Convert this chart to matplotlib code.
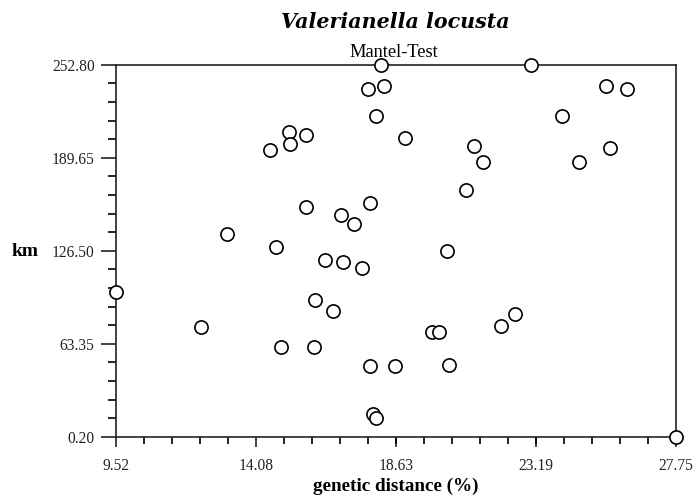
import matplotlib
matplotlib.use("Agg")
import matplotlib.pyplot as plt
import numpy as np
from matplotlib.ticker import FixedLocator, AutoMinorLocator

# Data
genetic_distance = [9.52, 12.29, 13.12, 14.72, 14.88, 14.52, 15.15, 15.18, 15.72, 15.72,
                    16.00, 15.97, 16.32, 16.58, 16.84, 16.90, 17.27, 17.53, 17.72, 17.79,
                    17.79, 17.87, 18.00, 17.98, 18.15, 18.24, 18.60, 18.93, 19.80, 20.02,
                    20.28, 20.37, 20.91, 21.16, 21.48, 22.04, 22.51, 23.03, 24.05, 24.58,
                    25.47, 25.61, 26.14, 27.75]
km = [98.5, 74.7, 137.6, 128.8, 61.3, 195.1, 207.4, 199.0, 204.9, 156.2,
      93.0, 61.3, 120.0, 85.6, 150.7, 119.0, 144.8, 114.8, 236.3, 159.1,
      48.4, 15.6, 12.9, 218.0, 252.8, 238.5, 48.5, 202.7, 71.3, 71.3,
      126.5, 48.7, 167.9, 197.3, 186.5, 75.4, 83.3, 252.8, 218.0, 186.5,
      238.5, 196.4, 236.3, 0.2]

x_ticks = [9.52, 14.08, 18.63, 23.19, 27.75]
x_tick_labels = ["9.52", "14.08", "18.63", "23.19", "27.75"]
y_ticks = [0.20, 63.35, 126.50, 189.65, 252.80]
y_tick_labels = ["0.20", "63.35", "126.50", "189.65", "252.80"]

title = "Valerianella locusta"
subtitle = "Mantel-Test"
xlabel = "genetic distance (%)"
ylabel = "km"

plt.rcParams['font.family'] = ['Liberation Serif', 'DejaVu Serif']

W, H = 693, 495
fig = plt.figure(figsize=(W/100, H/100), dpi=100)
ax = fig.add_axes([116/W, 1-436.7/H, (676-116)/W, (436.7-64.7)/H])

ax.plot(genetic_distance, km, linestyle='none', marker='o', markersize=9.5,
        markerfacecolor='white', markeredgecolor='black', markeredgewidth=1.2,
        clip_on=False, zorder=5)

ax.set_xlim(x_ticks[0], x_ticks[-1])
ax.set_ylim(y_ticks[0], y_ticks[-1])
ax.xaxis.set_major_locator(FixedLocator(x_ticks))
ax.yaxis.set_major_locator(FixedLocator(y_ticks))
ax.set_xticklabels(x_tick_labels)
ax.set_yticklabels(y_tick_labels)
ax.xaxis.set_minor_locator(AutoMinorLocator(5))
ax.yaxis.set_minor_locator(AutoMinorLocator(5))

for s in ax.spines.values():
    s.set_linewidth(1.2)
    s.set_color('#222222')

ax.tick_params(axis='x', which='major', direction='out', length=7.5, width=1.2, pad=7.5,
               labelsize=11.2, colors='#222222')
ax.tick_params(axis='x', which='minor', direction='out', length=5, width=1.2)
ax.tick_params(axis='y', which='major', direction='out', length=11, width=1.2, pad=4.3,
               labelsize=11.2, colors='#222222')
ax.tick_params(axis='y', which='minor', direction='out', length=6, width=1.2)

fig.text(395.5/W, 1-28.3/H, title, ha='center', va='baseline', fontsize=14.85,
         fontweight='bold', fontstyle='italic', family=['DejaVu Serif'])
fig.text(394/W, 1-57.3/H, subtitle, ha='center', va='baseline', fontsize=13.2)
fig.text(396/W, 1-490.7/H, xlabel, ha='center', va='baseline', fontsize=13.8,
         fontweight='bold')
fig.text(25.5/W, 1-256/H, ylabel, ha='center', va='baseline', fontsize=14,
         fontweight='bold')

fig.savefig("out.png", dpi=100, facecolor='white')
